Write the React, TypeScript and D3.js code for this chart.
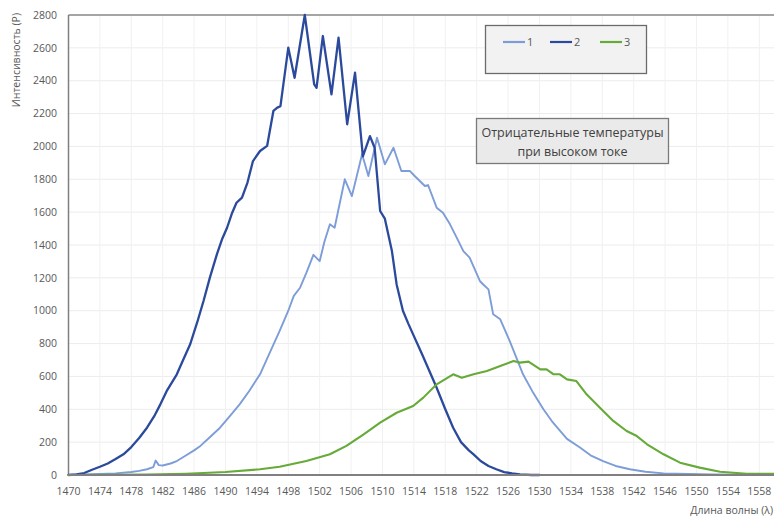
import React from 'react';
import * as d3 from 'd3';

type Pt = [number, number];

// wavelength (nm), intensity
const series1: Pt[] = [
  [1470, 0], [1472, 3], [1474, 6], [1476, 10], [1478, 18], [1479, 25], [1480, 35], [1480.8, 48],
  [1481.1, 88], [1481.5, 60], [1482, 58], [1483, 70], [1483.8, 85], [1485, 120], [1486, 150],
  [1486.8, 177], [1488, 230], [1489.3, 288], [1490.5, 355], [1491.8, 430], [1493, 510], [1494.4, 613],
  [1495.6, 740], [1496.9, 877], [1498, 1000], [1498.7, 1090], [1499.5, 1140], [1500.3, 1230],
  [1501.2, 1340], [1502, 1302], [1502.6, 1420], [1503.3, 1526], [1503.9, 1505], [1505.2, 1800],
  [1506.1, 1698], [1507.4, 1952], [1508.2, 1820], [1509.3, 2053], [1510.3, 1891], [1511.4, 1992],
  [1512.4, 1850], [1513.5, 1850], [1514.1, 1820], [1515.4, 1759], [1515.8, 1765], [1516.9, 1627],
  [1517.7, 1597], [1518.6, 1526], [1519.5, 1440], [1520.3, 1363], [1521.1, 1323], [1522.4, 1181],
  [1522.8, 1161], [1523.5, 1130], [1524.1, 978], [1525, 948], [1526.2, 816], [1527.9, 613],
  [1529.2, 500], [1530.5, 400], [1531.7, 320], [1533.5, 220], [1535.2, 166], [1536.5, 120],
  [1538.1, 85], [1539.7, 55], [1541.5, 35], [1543.5, 20], [1545.8, 10], [1549, 6], [1552, 4],
  [1556, 2], [1560, 2],
];

const series2: Pt[] = [
  [1470, 0], [1471, 4], [1472, 12], [1473, 32], [1474, 50], [1475, 70], [1476, 97], [1477, 126],
  [1478, 170], [1479, 225], [1480, 288], [1481, 365], [1481.7, 430], [1482.5, 510], [1483.8, 613],
  [1484.6, 700], [1485.5, 796], [1486.4, 930], [1487.2, 1059], [1488, 1200], [1488.9, 1343],
  [1489.6, 1440], [1490.2, 1505], [1490.8, 1590], [1491.4, 1657], [1492.1, 1688], [1492.8, 1780],
  [1493.5, 1911], [1494.4, 1972], [1495.3, 2003], [1496.1, 2216], [1496.6, 2236], [1497, 2245],
  [1498, 2601], [1498.8, 2418], [1500.1, 2800], [1501.3, 2378], [1501.6, 2357], [1502.4, 2672],
  [1503.5, 2317], [1504.4, 2662], [1505.5, 2135], [1506.5, 2449], [1507.5, 1940], [1508.4, 2063],
  [1509, 1992], [1509.7, 1607], [1510.3, 1560], [1511.2, 1363], [1511.8, 1160], [1512.6, 1000],
  [1513.3, 920], [1513.9, 856], [1515, 740], [1516, 630], [1516.9, 531], [1518, 400], [1519, 288],
  [1520, 200], [1521, 150], [1521.6, 126], [1522.5, 85], [1523.5, 55], [1524.5, 35], [1525.5, 18],
  [1526.5, 10], [1527.5, 4], [1529, 0], [1530, 0],
];

const series3: Pt[] = [
  [1470, 0], [1475, 1], [1480, 3], [1485, 8], [1490, 18], [1494.4, 35], [1496.9, 50], [1500.3, 85],
  [1503.3, 126], [1505.4, 177], [1507.6, 248], [1509.7, 319], [1511.8, 379], [1513.9, 420],
  [1515.2, 471], [1516.9, 552], [1519, 613], [1520.1, 592], [1521.6, 613], [1523.3, 633],
  [1525, 663], [1526.7, 694], [1527.5, 684], [1528.6, 690], [1530.1, 643], [1530.9, 643],
  [1531.8, 613], [1532.6, 613], [1533.5, 582], [1534.7, 572], [1536, 491], [1537.7, 410],
  [1539.4, 329], [1541.1, 268], [1542.4, 237], [1543.7, 187], [1545.8, 126], [1547.9, 75],
  [1550.4, 45], [1553, 20], [1556.4, 8], [1560, 8],
];

const seriesNames = ['1', '2', '3'];
const seriesColors = ['#7d9dd9', '#2c4a9c', '#66aa38'];
const xTicks = d3.range(1470, 1559, 4);
const yTicks = d3.range(0, 2801, 200);

const W = 774;
const H = 516;

export default function App() {
  const x = d3.scaleLinear().domain([1470, 1560]).range([68.5, 775]);
  const y = d3.scaleLinear().domain([0, 2800]).range([475, 15]);
  const line = d3.line<Pt>().x(d => x(d[0])).y(d => y(d[1]));
  const all = [series1, series2, series3];
  const widths = [1.9, 2.3, 2.1];
  const font = '"Open Sans", "DejaVu Sans", sans-serif';

  return (
    <svg width={W} height={H} style={{ position: 'absolute', left: 0, top: 0, background: '#fff' }}
      fontFamily={font}>
      <rect width={W} height={H} fill="#fff" />
      {/* grid */}
      {yTicks.map(t => (
        <line key={'gy' + t} x1={x(1470)} x2={W} y1={y(t)} y2={y(t)} stroke="#ececec" strokeWidth={1} />
      ))}
      {xTicks.map(t => (
        <line key={'gx' + t} x1={x(t)} x2={x(t)} y1={y(0)} y2={y(2800)} stroke="#f1f1f1" strokeWidth={1} />
      ))}
      {/* frame */}
      <line x1={x(1470)} x2={W} y1={y(2800)} y2={y(2800)} stroke="#8a8a8a" strokeWidth={1.5} />
      <line x1={x(1470)} x2={x(1470)} y1={y(0)} y2={y(2800)} stroke="#7f7f7f" strokeWidth={1.5} />
      {/* series */}
      {all.map((s, i) => (
        <path key={i} d={line(s) || ''} fill="none" stroke={seriesColors[i]} strokeWidth={widths[i]}
          strokeLinejoin="round" strokeLinecap="round" />
      ))}
      <line x1={x(1470)} x2={W} y1={y(0)} y2={y(0)} stroke="#808080" strokeWidth={2} />
      {/* axis labels */}
      {yTicks.map(t => (
        <text key={'ty' + t} x={57} y={y(t)} dy="0.35em" textAnchor="end" fontSize={10.5} fill="#595959">{t}</text>
      ))}
      {xTicks.map(t => (
        <text key={'tx' + t} x={x(t)} y={495} textAnchor="middle" fontSize={10.5} fill="#595959">{t}</text>
      ))}
      <text transform="translate(20,13) rotate(-90)" textAnchor="end" fontSize={10.5} fill="#595959">Интенсивность (P)</text>
      <text x={773} y={514} textAnchor="end" fontSize={10.5} fill="#595959">Длина волны (λ)</text>
      {/* legend */}
      <rect x={485.5} y={25.5} width={161} height={48} fill="#f2f2f2" stroke="#6b6b6b" strokeWidth={1.3} />
      {seriesNames.map((n, i) => {
        const lx = [503, 550, 600][i];
        return (
          <g key={n}>
            <line x1={lx} x2={lx + 22} y1={42} y2={42} stroke={seriesColors[i]} strokeWidth={2.2} />
            <text x={lx + 24} y={42} dy="0.35em" fontSize={11} fill="#595959">{n}</text>
          </g>
        );
      })}
      {/* annotation */}
      <rect x={476.5} y={118.5} width={192} height={45} fill="#eaeaea" stroke="#7a7a7a" strokeWidth={1.3} />
      <text x={572.5} y={137} textAnchor="middle" fontSize={12.5} fill="#404040">Отрицательные температуры</text>
      <text x={572.5} y={156} textAnchor="middle" fontSize={12.5} fill="#404040">при высоком токе</text>
    </svg>
  );
}
